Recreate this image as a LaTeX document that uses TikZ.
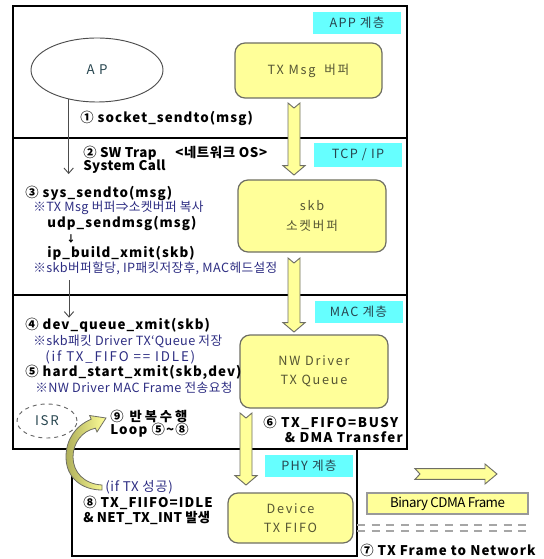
\documentclass[tikz,border=0pt]{standalone}
\usepackage{fontspec}
\setmainfont{Noto Sans CJK KR}
\newfontfamily\codefont{Noto Sans CJK KR}[LetterSpace=8]
\usetikzlibrary{calc,arrows.meta,shapes.geometric}

\definecolor{bufyellow}{RGB}{255,255,153}
\definecolor{bufedge}{RGB}{110,110,100}
\definecolor{boxtext}{RGB}{85,85,51}
\definecolor{cyanfill}{RGB}{102,255,255}
\definecolor{layertext}{RGB}{40,70,80}
\definecolor{noteblue}{RGB}{45,45,130}
\definecolor{olivedark}{RGB}{175,175,90}

% bold, letter-spaced function names
\newcommand\fn[1]{{\codefont\bfseries #1}}
\newcommand\spaced[1]{\addfontfeature{LetterSpace=#1}}

% vertical block arrow: tail point #1, tip point #2 (x taken from #1)
\newcommand\downblock[2]{%
  \path[blockarrow] let \p1=(#1), \p2=(#2) in
    (\x1-4.5pt,\y1) -- (\x1,\y1-3.75pt) -- (\x1+4.5pt,\y1)
    -- (\x1+4.5pt,\y2+7pt) -- (\x1+8.25pt,\y2+7pt) -- (\x1,\y2)
    -- (\x1-8.25pt,\y2+7pt) -- (\x1-4.5pt,\y2+7pt) -- cycle;}
% horizontal block arrow: tail point #1, tip point #2 (y taken from #1)
\newcommand\rightblock[2]{%
  \path[blockarrow] let \p1=(#1), \p2=(#2) in
    (\x1,\y1+4pt) -- (\x1+3.75pt,\y1) -- (\x1,\y1-4pt)
    -- (\x2-9pt,\y1-4pt) -- (\x2-9pt,\y1-7.5pt) -- (\x2,\y1)
    -- (\x2-9pt,\y1+7.5pt) -- (\x2-9pt,\y1+4pt) -- cycle;}

\begin{document}
\begin{tikzpicture}[x=0.75pt,y=-0.75pt,
  frame/.style={draw=black,line width=0.8pt},
  layer/.style={fill=cyanfill,text=layertext,minimum width=66pt,
    minimum height=16.5pt,inner sep=0pt,font=\fontsize{9.5}{10}\selectfont\spaced{10}},
  buf/.style={draw=bufedge,fill=bufyellow,rounded corners=7.5pt,line width=0.9pt,
    text=boxtext,align=center,inner sep=0pt,font=\fontsize{9.5}{14.5}\selectfont\spaced{14}},
  blockarrow/.style={fill=bufyellow,draw=bufedge,line width=0.7pt},
  lbl/.style={anchor=west,inner sep=0pt,font=\fontsize{10}{11}\selectfont},
  blbl/.style={lbl,font=\bfseries\fontsize{10}{11}\selectfont\spaced{3}},
  note/.style={lbl,text=noteblue,font=\fontsize{9.5}{10}\selectfont\spaced{3}},
  thinarrow/.style={draw=black!70,line width=0.7pt,-{Straight Barb[length=4pt,width=7pt]}},
  dashline/.style={draw=black!35,line width=1.1pt,dash pattern=on 6pt off 5pt}]

\useasboundingbox (0,0) rectangle (543,559);

% layer frames
\draw[frame] (13,6) rectangle (407,449);
\draw[frame] (13,138) -- (407,138);
\draw[frame] (13,295) -- (407,295);
\draw[frame] (72,449) rectangle (357,556);

% layer tags
\node[layer] (lapp) at (357,23) {APP 계층};
\node[layer,minimum height=18pt] (ltcp) at (358,155) {TCP / IP};
\node[layer] (lmac) at (358.5,312) {MAC 계층};
\node[layer] (lphy) at (309,466) {PHY 계층};

% application
\node[draw=black!70,line width=0.7pt,ellipse,minimum width=99pt,minimum height=48pt,
  text=layertext,font=\fontsize{10}{11}\selectfont] (ap) at (97,70) {A\,\,P};

% buffers
\node[buf,minimum width=110.25pt,minimum height=41.25pt] (txmsg) at (308.5,70.5) {TX Msg\,\, 버퍼};
\node[buf,minimum width=111pt,minimum height=54pt] (skb) at (312,216) {skb\\소켓버퍼};
\node[buf,minimum width=111pt,minimum height=54.75pt] (nwq) at (314,371.5) {NW Driver\\TX Queue};
\node[buf,minimum width=93.75pt,minimum height=37.5pt] (fifo) at (290.5,518) {Device\\TX FIFO};
\node[draw=black!40,fill=bufyellow,line width=1.2pt,minimum width=120.75pt,minimum height=15.75pt,
  inner sep=0pt,font=\fontsize{10}{11}\selectfont\spaced{-4}] (cdma) at (447.5,503.5) {Binary CDMA Frame};

% block arrows between the buffers
\coordinate (a1s) at (294,103);  \coordinate (a1e) at (294,175);
\coordinate (a2s) at (294,258);  \coordinate (a2e) at (294,332);
\coordinate (a3s) at (246,413);  \coordinate (a3e) at (246,485);
\coordinate (a4s) at (415,474);  \coordinate (a4e) at (497,474);
\downblock{a1s}{a1e}
\downblock{a2s}{a2e}
\downblock{a3s}{a3e}
\rightblock{a4s}{a4e}

% call flow, left column
\node[lbl] (s1) at (80,118) {\fn{① socket\_sendto(msg)}};
\node[blbl] (s2) at (83,153) {② SW Trap};
\node[blbl,font=\bfseries\fontsize{10}{11}\selectfont\spaced{5}] (s2os) at (175,153) {<네트워크 OS>};
\node[blbl] (s2b) at (83,167) {System Call};
\node[lbl] (s3) at (25,193) {\fn{③ sys\_sendto(msg)}};
\node[note] (n3) at (33,208) {※TX Msg 버퍼⇒소켓버퍼 복사};
\node[lbl] (s3b) at (47,223) {\fn{udp\_sendmsg(msg)}};
\node[lbl,font=\bfseries\fontsize{7}{8}\selectfont] (s3arr) at (66,239) {↓};
\node[lbl] (s3c) at (47,253) {\fn{ip\_build\_xmit(skb)}};
\node[note] (n3c) at (33,268) {※skb버퍼할당, IP패킷저장후, MAC헤드설정};
\node[lbl] (s4) at (25,325) {\fn{④ dev\_queue\_xmit(skb)}};
\node[note] (n4) at (33,341) {※skb패킷 Driver TX`Queue 저장};
\node[note,font=\fontsize{10}{11}\selectfont\spaced{14}] (n4b) at (45,357) {(if TX\_FIFO == IDLE)};
\node[lbl] (s5) at (25,372) {\fn{⑤ hard\_start\_xmit(skb,dev)}};
\node[note] (n5) at (35,388) {※NW Driver MAC Frame 전송요청};
\node[draw=black!60,dashed,line width=0.7pt,ellipse,minimum width=45pt,minimum height=25.5pt,
  text=layertext,font=\fontsize{10}{11}\selectfont\spaced{12}] (isr) at (47,421) {ISR};
\node[lbl,font=\bfseries\fontsize{10}{11}\selectfont\spaced{22}] (s9) at (110,416) {⑨ 반복수행};
\node[lbl,font=\bfseries\fontsize{10}{11}\selectfont\spaced{9}] (s9b) at (110,430) {Loop ⑤\textasciitilde⑧};
\node[blbl,font=\bfseries\fontsize{10}{11}\selectfont\spaced{12}] (s6) at (263,423) {⑥ TX\_FIFO=BUSY};
\node[anchor=east,inner sep=0pt,font=\bfseries\fontsize{10}{11}\selectfont\spaced{10}] (s6b) at (403,437) {\& DMA Transfer};
\node[note,font=\fontsize{10}{11}\selectfont\spaced{5}] (nif) at (105,487) {(if TX 성공)};
\node[blbl,font=\bfseries\fontsize{10}{11}\selectfont\spaced{8}] (s8) at (83,503) {⑧ TX\_FIIFO=IDLE};
\node[blbl,font=\bfseries\fontsize{10}{11}\selectfont\spaced{2}] (s8b) at (83,518) {\& NET\_TX\_INT 발생};
\node[blbl,font=\bfseries\fontsize{10}{11}\selectfont\spaced{8}] (s7) at (360,550) {⑦ TX Frame to Network};

% system call path
\draw[thinarrow] (ap.-134) -- (ap.-134 |- s2b.south);
\coordinate (l2s) at (69,280);
\draw[thinarrow] (l2s) -- (l2s |- s4.north);

% wire to the network
\coordinate (w1s) at (357,525); \coordinate (w1e) at (532,525);
\coordinate (w2s) at (357,531); \coordinate (w2e) at (532,531);
\draw[dashline] (w1s) -- (w1e);
\draw[dashline] (w2s) -- (w2e);

% interrupt loop arrow
\path[left color=olivedark,right color=bufyellow,draw=bufedge,line width=0.6pt]
  (102,485) .. controls (84,484) and (73,472) .. (73,457)
  .. controls (73,443) and (82,431) .. (95.4,428.2)
  -- (97,432) -- (106,418) -- (89.6,415.5) -- (91.2,419.2)
  .. controls (75,426) and (66,440) .. (66,457)
  .. controls (66,478) and (82,490) .. (102,490) -- cycle;
\end{tikzpicture}
\end{document}
